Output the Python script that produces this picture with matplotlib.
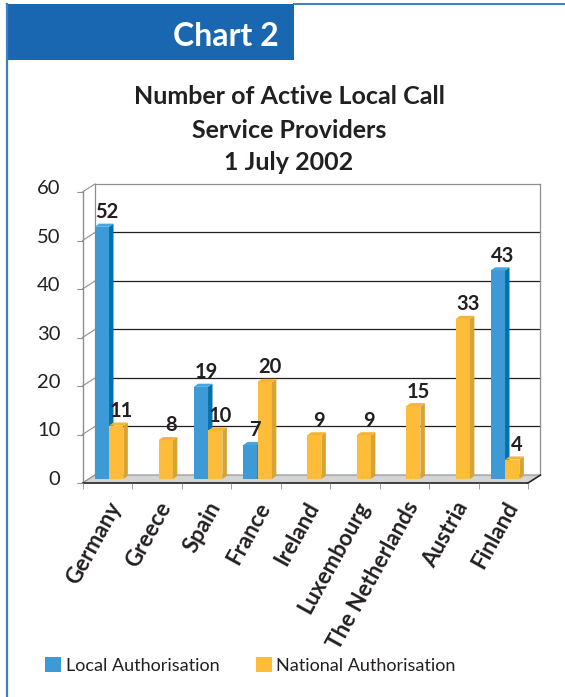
import matplotlib
matplotlib.use("Agg")
import matplotlib.pyplot as plt
import matplotlib.transforms as mtransforms
from matplotlib.patches import Polygon, Rectangle, Patch
from matplotlib.lines import Line2D

plt.rcParams["font.family"] = ["Lato", "DejaVu Sans"]

# data
countries = ["Germany", "Greece", "Spain", "France", "Ireland", "Luxembourg",
             "The Netherlands", "Austria", "Finland"]
local_auth = [52, 0, 19, 7, 0, 0, 0, 0, 43]
national_auth = [11, 8, 10, 20, 9, 9, 15, 33, 4]
y_ticks = [0, 10, 20, 30, 40, 50, 60]
series_names = ["Local Authorisation", "National Authorisation"]

BLUE, BLUE_SIDE, BLUE_TOP = "#3d9ad6", "#0071ad", "#45a6e0"
YEL, YEL_SIDE, YEL_TOP = "#fdbd39", "#d7a332", "#f3b533"
DARK = "#231f20"
GREY = "#8f8f8f"
FRAME = "#1a67b1"

W, H = 565, 697
fig = plt.figure(figsize=(W / 100, H / 100), dpi=100)


def fx(px):
    return px / W


def fy(py):
    return 1 - py / H


# frame + header tab
fig.add_artist(Line2D([fx(7), fx(7)], [fy(4), 0], transform=fig.transFigure,
                      color="#3a80c6", lw=1.6))
fig.add_artist(Line2D([fx(294), 1], [fy(4), fy(4)], transform=fig.transFigure,
                      color="#3a80c6", lw=1.4))
fig.add_artist(Rectangle((fx(6), fy(60)), (294 - 6) / W, 56 / H,
                         transform=fig.transFigure, fc=FRAME, ec="none"))
fig.text(fx(226), fy(36), "Chart 2", ha="center", va="center", color="white",
         fontsize=23, fontweight="bold")

# title
for txt, yy in zip(["Number of Active Local Call", "Service Providers", "1 July 2002"],
                   [96, 130, 163]):
    fig.text(fx(289), fy(yy), txt, ha="center", va="center", color=DARK,
             fontsize=18, fontweight="bold")

ax = fig.add_axes([fx(82.5), fy(483), (528 - 82.5) / W, 291 / H])
n = len(countries)
x0, x1 = -0.5, n - 0.5
ax.set_xlim(x0, x1)
ax.set_ylim(0, 60)
for s in ax.spines.values():
    s.set_visible(False)
ax.patch.set_visible(False)

DX, DY = 0.2525, 1.65     # depth of floor / walls
BDX, BDY = 0.09, 0.65     # depth of each bar
BW = 0.29
SHIFT = 0.036
base = DY / 2

# floor
ax.add_patch(Polygon([(x0, 0), (x1, 0), (x1 + DX, DY), (x0 + DX, DY)], closed=True,
                     fc="#d3d4d6", ec=GREY, lw=0.8, zorder=1, clip_on=False))
ax.plot([x0, x1], [0, 0], color=DARK, lw=1.1, zorder=1.2, clip_on=False)
ax.plot([x1, x1 + DX], [0, DY], color=DARK, lw=1.1, zorder=1.2, clip_on=False)

# back wall + left wall grid
for v in y_ticks[1:]:
    col = DARK if v < 60 else GREY
    ax.plot([x0 + DX, x1 + DX], [v + DY, v + DY], color=col, lw=0.9, zorder=0.5,
            clip_on=False)
    ax.plot([x0, x0 + DX], [v, v + DY], color=GREY, lw=0.8, zorder=0.5, clip_on=False)
ax.plot([x0 + DX, x0 + DX], [DY, 60 + DY], color=GREY, lw=0.9, zorder=0.5, clip_on=False)
ax.plot([x1 + DX, x1 + DX], [DY, 60 + DY], color=GREY, lw=0.9, zorder=0.5, clip_on=False)
ax.plot([x0, x0], [0, 60], color=GREY, lw=1.0, zorder=0.5, clip_on=False)
ax.plot([x0, x0 + DX], [0, DY], color=GREY, lw=0.8, zorder=0.5, clip_on=False)

blue_x = [i + SHIFT - BW / 2 for i in range(n)]
yel_x = [i + SHIFT + BW / 2 for i in range(n)]


def bars3d(xs, vals, front, side, top, z):
    ax.bar(xs, vals, width=BW, bottom=base, color=front, lw=0, zorder=z)
    for xc, v in zip(xs, vals):
        if v <= 0:
            continue
        l, r = xc - BW / 2, xc + BW / 2
        t = base + v
        ax.add_patch(Polygon([(r, base), (r + BDX, base + BDY), (r + BDX, t + BDY), (r, t)],
                             closed=True, fc=side, ec="none", zorder=z))
        ax.add_patch(Polygon([(l, t), (r, t), (r + BDX, t + BDY), (l + BDX, t + BDY)],
                             closed=True, fc=top, ec="none", zorder=z))
        ax.annotate(str(v), (xc + BDX / 2, t + BDY), xytext=(2, 4),
                    textcoords="offset points", ha="center", va="baseline",
                    fontsize=14.5, fontweight="bold", color=DARK, zorder=5,
                    annotation_clip=False)


bars3d(blue_x, local_auth, BLUE, BLUE_SIDE, BLUE_TOP, 2)
bars3d(yel_x, national_auth, YEL, YEL_SIDE, YEL_TOP, 3)

# x axis: marks at category borders, names at centres
ax.set_xticks(range(n))
ax.set_xticklabels(countries, rotation=61, ha="right", va="top",
                   rotation_mode="anchor", fontsize=16, fontweight="bold", color=DARK)
ax.set_xticks([i - 0.5 for i in range(n + 1)], minor=True)
ax.tick_params(axis="x", which="major", length=0, pad=11)
ax.tick_params(axis="x", which="minor", length=4, color=GREY, direction="out")

ax.set_yticks(y_ticks)
ax.set_yticklabels([str(v) for v in y_ticks], fontsize=14.5, color=DARK)
ax.tick_params(axis="y", length=4, color=GREY, pad=12)
up = mtransforms.ScaledTranslation(0, 5 / 100, fig.dpi_scale_trans)
for lbl in ax.get_yticklabels():
    lbl.set_transform(lbl.get_transform() + up)

fig.legend(handles=[Patch(fc=BLUE), Patch(fc=YEL)], labels=series_names,
           loc="center left", bbox_to_anchor=(fx(45), fy(665.5)), ncol=2,
           frameon=False, fontsize=13, handlelength=0.9, handleheight=0.9,
           handletextpad=0.25, columnspacing=2.0, borderpad=0, borderaxespad=0,
           labelcolor=DARK)

fig.savefig("out.png", dpi=100)
